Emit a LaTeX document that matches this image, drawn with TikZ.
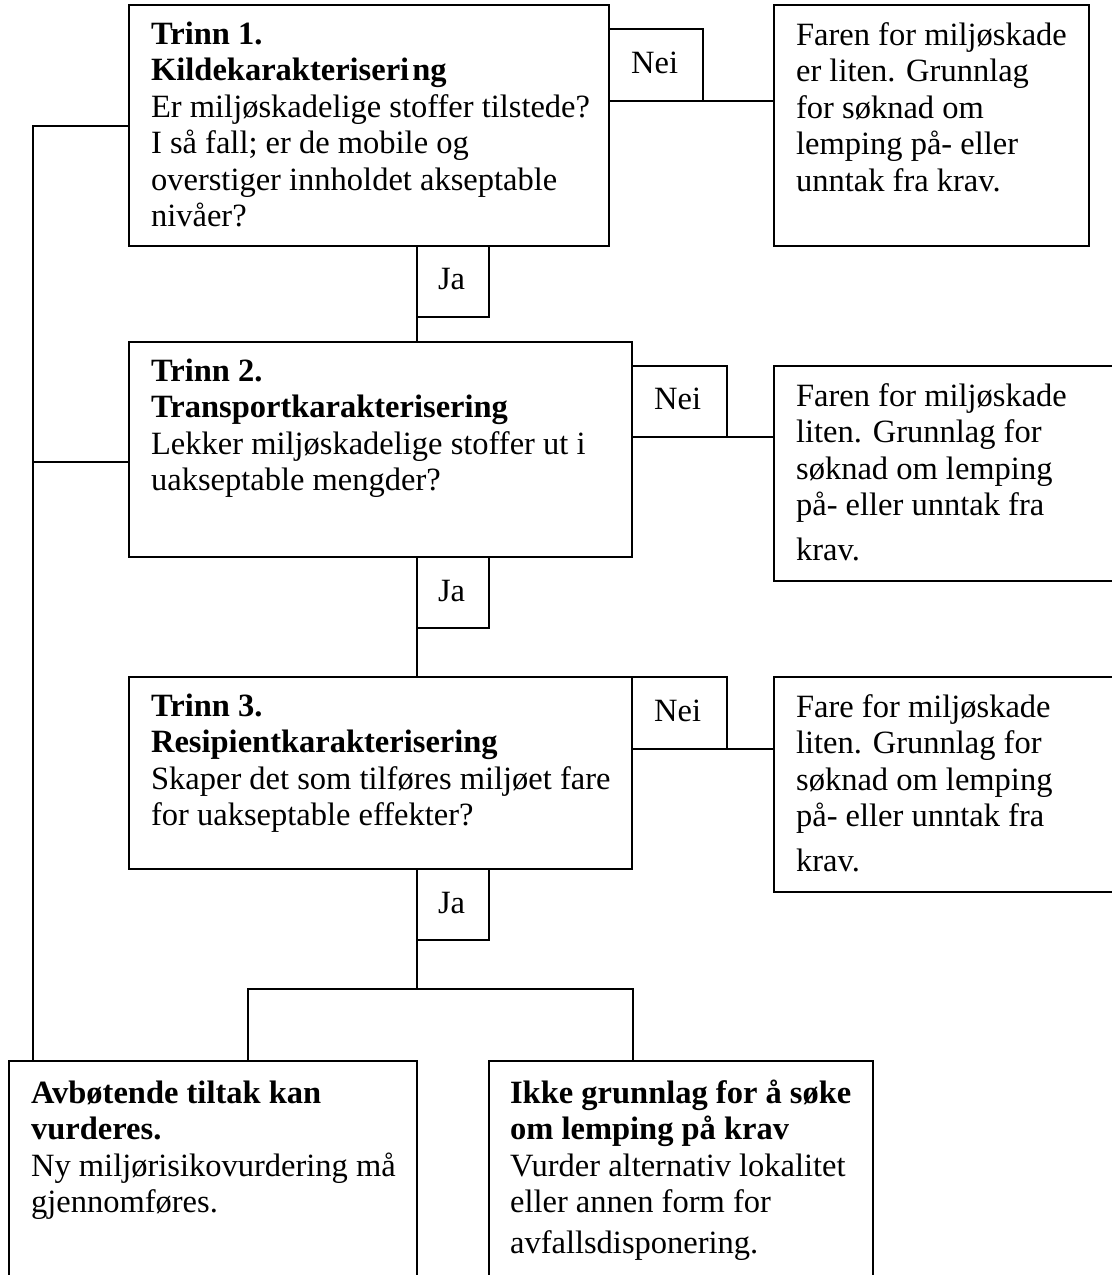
\documentclass[tikz,border=0pt]{standalone}
\usepackage{fontspec}
\setmainfont{Liberation Serif}
\newcommand\firststrut{\rule{0pt}{16pt}}
\begin{document}
\setlength{\lineskiplimit}{-50pt}
\begin{tikzpicture}[x=0.5pt,y=-0.5pt,
  line width=1.1pt,
  box/.style={draw, anchor=north west, inner sep=0pt, outer sep=0pt},
  txt/.style={anchor=north west, inner sep=0pt, align=left,
    font=\fontsize{16.25}{18.25}\selectfont},
  conn/.style={line width=1pt}]
\useasboundingbox (0,0) rectangle (1112,1275);
\clip (0,0) rectangle (1112,1275);

% main step boxes
\node[box, minimum width=240pt, minimum height=120.5pt] (b1) at (129,5) {};
\node[box, minimum width=251.5pt, minimum height=107.5pt] (b2) at (129,342) {};
\node[box, minimum width=251.5pt, minimum height=96pt] (b3) at (129,677) {};
% Nei boxes
\node[box, minimum width=47pt, minimum height=36pt] (n1) at (609,29) {};
\node[box, minimum width=47.5pt, minimum height=35.5pt] (n2) at (632,366) {};
\node[box, minimum width=47.5pt, minimum height=36pt] (n3) at (632,677) {};
% right result boxes
\node[box, minimum width=157.5pt, minimum height=120.5pt] (r1) at (774,5) {};
\node[box, minimum width=175pt, minimum height=107.5pt] (r2) at (774,366) {};
\node[box, minimum width=175pt, minimum height=107.5pt] (r3) at (774,677) {};
% Ja boxes
\node[box, minimum width=36pt, minimum height=35.5pt] (j1) at (417,246) {};
\node[box, minimum width=36pt, minimum height=35.5pt] (j2) at (417,557) {};
\node[box, minimum width=36pt, minimum height=35.5pt] (j3) at (417,869) {};
% bottom boxes
\node[box, minimum width=204pt, minimum height=115pt] (bl) at (9,1061) {};
\node[box, minimum width=192pt, minimum height=115pt] (br) at (489,1061) {};

% texts
\node[txt] (t1) at (150,11) {\firststrut\textbf{Trinn 1.}\\\textbf{Kildekarakteriseri\kern1.5pt ng}\\Er miljøskadelige stoffer tilstede?\\I så fall; er de mobile og\\overstiger innholdet akseptable\\nivåer?};
\node[txt] (t2) at (150,348) {\firststrut\textbf{Trinn 2.}\\\textbf{Transportkarakterisering}\\Lekker miljøskadelige stoffer ut i\\uakseptable mengder?};
\node[txt] (t3) at (150,683) {\firststrut\textbf{Trinn 3.}\\\textbf{Resipientkarakterisering}\\Skaper det som tilføres miljøet fare\\for uakseptable effekter?};
\node[txt] (tn1) at (630,40) {\firststrut Nei};
\node[txt] (tn2) at (653,376) {\firststrut Nei};
\node[txt] (tn3) at (653,688) {\firststrut Nei};
\node[txt] (tr1) at (795,12) {\firststrut Faren for miljøskade\\er liten. Grunnlag\\for søknad om\\lemping på- eller\\unntak fra krav.};
\node[txt] (tr2) at (795,373) {\firststrut Faren for miljøskade\\liten. Grunnlag for\\søknad om lemping\\på- eller unntak fra\\[4pt]krav.};
\node[txt] (tr3) at (795,684) {\firststrut Fare for miljøskade\\liten. Grunnlag for\\søknad om lemping\\på- eller unntak fra\\[4pt]krav.};
\node[txt] (tj1) at (437,256) {\firststrut Ja};
\node[txt] (tj2) at (437,568) {\firststrut Ja};
\node[txt] (tj3) at (437,880) {\firststrut Ja};
\node[txt] (tbl) at (30,1070) {\firststrut\textbf{Avbøtende tiltak kan}\\\textbf{vurderes.}\\Ny miljørisikovurdering må\\gjennomføres.};
\node[txt] (tbr) at (509,1070) {\firststrut\textbf{Ikke grunnlag for å søke}\\\textbf{om lemping på krav}\\Vurder alternativ lokalitet\\eller annen form for\\[2pt]avfallsdisponering.};

% connectors
\coordinate (lft) at (33,125.5);
\coordinate (y2) at (0,462);
\coordinate (jn) at (417,989);
\coordinate (jl) at (248,989);
\coordinate (jr) at (633,989);
\draw[conn] (b1.west) -- (lft) -- (lft |- bl.north);
\draw[conn] (b2.west |- y2) -- (lft |- y2);
\draw[conn] (b1.east |- n1.south) -- (r1.west |- n1.south);
\draw[conn] (b2.east |- n2.south) -- (r2.west |- n2.south);
\draw[conn] (b3.east |- n3.south) -- (r3.west |- n3.south);
\draw[conn] (j1.south west) -- (j1.south west |- b2.north);
\draw[conn] (j2.south west) -- (j2.south west |- b3.north);
\draw[conn] (j3.south west) -- (jn);
\draw[conn] (jl |- bl.north) -- (jl) -- (jr) -- (jr |- br.north);
\end{tikzpicture}
\end{document}
